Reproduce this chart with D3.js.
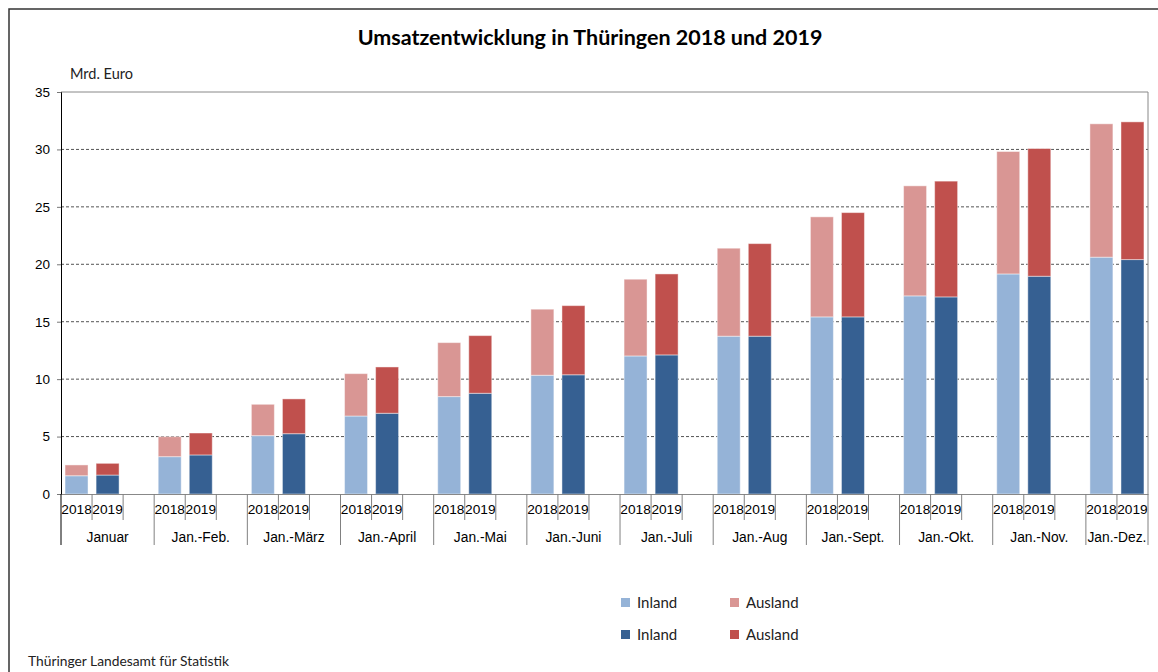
<!DOCTYPE html>
<html>
<head>
<meta charset="utf-8">
<script src="https://cdn.jsdelivr.net/npm/d3@7"></script>
<style>
  body { margin: 0; background: #fff; }
  svg { display: block; }
</style>
</head>
<body>
<svg id="chart" width="1158" height="672"></svg>
<script>
// Zeiträume (kumuliert) und Jahre
var months = ['Januar', 'Jan.-Feb.', 'Jan.-März', 'Jan.-April', 'Jan.-Mai', 'Jan.-Juni',
    'Jan.-Juli', 'Jan.-Aug', 'Jan.-Sept.', 'Jan.-Okt.', 'Jan.-Nov.', 'Jan.-Dez.'];
var years = ['2018', '2019'];

// Umsatz in Mrd. Euro
var inland2018  = [1.59, 3.25, 5.08, 6.79, 8.48, 10.34, 12.02, 13.74, 15.42, 17.25, 19.16, 20.62];
var ausland2018 = [0.94, 1.74, 2.73, 3.69, 4.70, 5.75, 6.68, 7.66, 8.71, 9.58, 10.66, 11.61];
var inland2019  = [1.65, 3.40, 5.25, 7.03, 8.77, 10.38, 12.11, 13.74, 15.42, 17.16, 18.96, 20.41];
var ausland2019 = [1.02, 1.91, 3.03, 4.03, 5.02, 6.02, 7.05, 8.06, 9.08, 10.08, 11.12, 11.99];

var yTicks = [0, 5, 10, 15, 20, 25, 30, 35];
var legendLabels = ['Inland', 'Ausland'];

var colors = {
    '2018': { inland: '#95b3d7', ausland: '#d99694' },
    '2019': { inland: '#366092', ausland: '#c0504d' }
};

var svg = d3.select('#chart');
var margin = { left: 61, right: 1148, top: 92, bottom: 494 };

// outer frame
svg.append('rect')
    .attr('x', 9).attr('y', 9)
    .attr('width', 1200).attr('height', 700)
    .attr('fill', 'none')
    .attr('stroke', '#333')
    .attr('stroke-width', 1.5);

// title
var title = svg.append('text')
    .attr('x', 590).attr('y', 37)
    .attr('text-anchor', 'middle')
    .attr('dominant-baseline', 'central')
    .style('font-family', 'Lato')
    .style('font-weight', 'bold')
    .style('font-size', '19.5px')
    .attr('fill', '#000')
    .text('Umsatzentwicklung in Thüringen 2018 und 2019');
var tw = title.node().getComputedTextLength();
title.style('font-size', (19.5 * 465 / tw) + 'px');

svg.append('text')
    .attr('x', 70).attr('y', 73)
    .attr('dominant-baseline', 'central')
    .style('font-family', 'Lato')
    .style('font-size', '14.5px')
    .attr('fill', '#222')
    .text('Mrd. Euro');

// slots: 2018, 2019, leer (letzte Gruppe ohne Leerplatz)
var slots = [];
months.forEach(function(m, i) {
    slots.push({ key: m + '|2018', month: m, year: '2018', idx: i });
    slots.push({ key: m + '|2019', month: m, year: '2019', idx: i });
    if (i < months.length - 1) slots.push({ key: m + '|gap', month: m, year: '', idx: i });
});

var x = d3.scaleBand()
    .domain(slots.map(function(d) { return d.key; }))
    .range([margin.left, margin.right])
    .paddingInner(0.26)
    .paddingOuter(0.13);

var y = d3.scaleLinear()
    .domain([0, 35])
    .range([margin.bottom, margin.top]);

// gridlines
svg.append('g')
    .selectAll('line')
    .data(yTicks.filter(function(t) { return t > 0 && t < 35; }))
    .enter()
    .append('line')
    .attr('x1', margin.left).attr('x2', margin.right)
    .attr('y1', function(d) { return y(d); })
    .attr('y2', function(d) { return y(d); })
    .attr('stroke', '#555')
    .attr('stroke-dasharray', '3,2');

// plot border top/right
svg.append('path')
    .attr('d', 'M' + margin.left + ',' + y(35) + 'H' + margin.right + 'V' + y(0))
    .attr('fill', 'none')
    .attr('stroke', '#888');

// bars
var stack = d3.stack().keys(['inland', 'ausland']);
years.forEach(function(yr) {
    var inl = yr === '2018' ? inland2018 : inland2019;
    var aus = yr === '2018' ? ausland2018 : ausland2019;
    var rows = months.map(function(m, i) {
        return { key: m + '|' + yr, inland: inl[i], ausland: aus[i] };
    });
    var series = stack(rows);
    svg.append('g')
        .selectAll('g')
        .data(series)
        .enter()
        .append('g')
        .attr('fill', function(s) { return colors[yr][s.key]; })
        .selectAll('rect')
        .data(function(s) { return s; })
        .enter()
        .append('rect')
        .attr('x', function(d) { return x(d.data.key); })
        .attr('width', x.bandwidth())
        .attr('y', function(d) { return y(d[1]); })
        .attr('height', function(d) { return y(d[0]) - y(d[1]); })
        .attr('stroke', '#fff')
        .attr('stroke-opacity', 0.45)
        .attr('stroke-width', 1);
});

// y axis
var yAxis = svg.append('g')
    .attr('transform', 'translate(' + margin.left + ',0)')
    .call(d3.axisLeft(y).tickValues(yTicks).tickSize(4).tickPadding(7).tickFormat(d3.format('d')));
yAxis.select('.domain').attr('stroke', '#000');
yAxis.selectAll('.tick line').attr('stroke', '#777');
yAxis.selectAll('text')
    .style('font-family', 'Liberation Sans, Arial')
    .style('font-size', '13.5px')
    .attr('fill', '#000');

// x axis
var xAxis = svg.append('g')
    .attr('transform', 'translate(0,' + margin.bottom + ')')
    .call(d3.axisBottom(x)
        .tickSize(0)
        .tickPadding(10)
        .tickFormat(function(k) { return k.split('|')[1] === 'gap' ? '' : k.split('|')[1]; }));
xAxis.select('.domain').attr('stroke', '#888');
xAxis.selectAll('text')
    .style('font-family', 'Liberation Sans, Arial')
    .style('font-size', '13.7px')
    .attr('fill', '#000');

var step = x.step();
var x0 = x.range()[0];
svg.append('g')
    .selectAll('line')
    .data(d3.range(slots.length + 1))
    .enter()
    .append('line')
    .attr('x1', function(i) { return x0 + i * step; })
    .attr('x2', function(i) { return x0 + i * step; })
    .attr('y1', margin.bottom)
    .attr('y2', function(i) { return (i % 3 === 0 || i === slots.length) ? 545 : 520; })
    .attr('stroke', function(i) { return i === 0 ? '#000' : '#808080'; });

// group labels
svg.append('g')
    .selectAll('text')
    .data(months)
    .enter()
    .append('text')
    .attr('x', function(m, i) {
        var a = x(m + '|2018') - x.paddingInner() * step / 2;
        var b = (i < months.length - 1) ? a + 3 * step : margin.right;
        return (a + b) / 2;
    })
    .attr('y', 537)
    .attr('text-anchor', 'middle')
    .attr('dominant-baseline', 'central')
    .style('font-family', 'Liberation Sans, Arial')
    .style('font-size', '13.8px')
    .attr('fill', '#000')
    .text(function(m) { return m; });

// legend
var legendRows = [
    { year: '2018', key: 'inland', label: legendLabels[0], lx: 621, ly: 602 },
    { year: '2018', key: 'ausland', label: legendLabels[1], lx: 730, ly: 602 },
    { year: '2019', key: 'inland', label: legendLabels[0], lx: 621, ly: 634 },
    { year: '2019', key: 'ausland', label: legendLabels[1], lx: 730, ly: 634 }
];
var lg = svg.append('g')
    .selectAll('g')
    .data(legendRows)
    .enter()
    .append('g');
lg.append('rect')
    .attr('x', function(d) { return d.lx; })
    .attr('y', function(d) { return d.ly - 4; })
    .attr('width', 9).attr('height', 9)
    .attr('fill', function(d) { return colors[d.year][d.key]; });
lg.append('text')
    .attr('x', function(d) { return d.lx + 16; })
    .attr('y', function(d) { return d.ly; })
    .attr('dominant-baseline', 'central')
    .style('font-family', 'Lato')
    .style('font-size', '15px')
    .attr('fill', '#222')
    .text(function(d) { return d.label; });

// footer
svg.append('text')
    .attr('x', 28).attr('y', 660)
    .attr('dominant-baseline', 'central')
    .style('font-family', 'Lato')
    .style('font-size', '13.8px')
    .attr('fill', '#222')
    .text('Thüringer Landesamt für Statistik');
</script>
</body>
</html>
